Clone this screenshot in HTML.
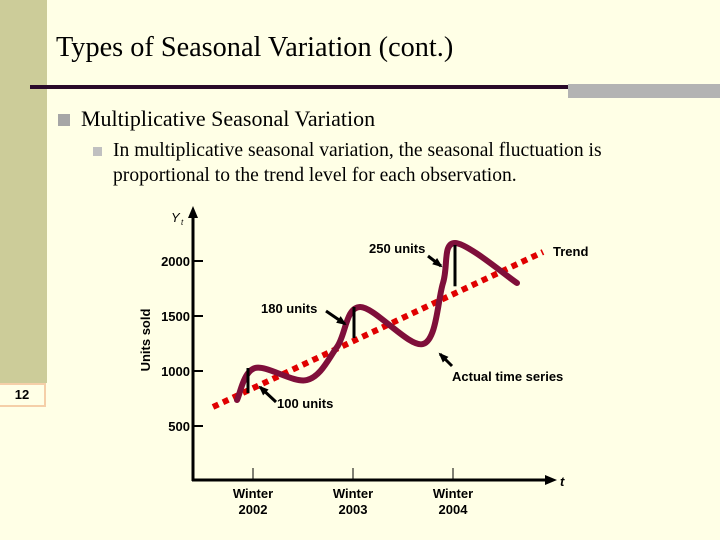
<!DOCTYPE html>
<html><head><meta charset="utf-8"><style>
body{margin:0;width:720px;height:540px;background:#ffffe6;position:relative;overflow:hidden;font-family:"Liberation Serif",serif}
.abs{position:absolute}
</style></head><body>
<div class="abs" style="left:0;top:0;width:47px;height:383px;background:#cccc99"></div>
<div class="abs" style="left:0;top:383px;width:44px;height:20px;border:2px solid #f5cfa8;border-left:none;font:bold 13px 'Liberation Sans',sans-serif;text-align:center;line-height:20px;color:#000">12</div>
<div class="abs" style="left:56px;top:32px;font-size:28px;color:#000;transform:scaleX(1.01);transform-origin:left">Types of Seasonal Variation (cont.)</div>
<div class="abs" style="left:30px;top:85px;width:540px;height:4px;background:#2a0a2a"></div>
<div class="abs" style="left:568px;top:84px;width:152px;height:14px;background:#b3b3b3"></div>
<div class="abs" style="left:58px;top:114px;width:12px;height:12px;background:#a6a6a6"></div>
<div class="abs" style="left:81px;top:106px;font-size:22px">Multiplicative Seasonal Variation</div>
<div class="abs" style="left:93px;top:147px;width:9px;height:9px;background:#c0c0c0"></div>
<div class="abs" style="left:113px;top:138px;font-size:19.6px;line-height:25px;width:560px">In multiplicative seasonal variation, the seasonal fluctuation is<br>proportional to the trend level for each observation.</div>
<svg class="abs" style="left:0;top:0" width="720" height="540">
<g id="g" font-family="Liberation Sans,sans-serif" font-weight="bold" font-size="13"></g>
</svg>
<script>
const yTicks=[500,1000,1500,2000];
const xCats=["Winter|2002","Winter|2003","Winter|2004"];
const actualT=[-0.16,0.02,0.54,0.84,1.07,1.70,1.90,2.02,2.64];
const actualV=[736,1027,918,1218,1582,1245,1800,2164,1800];
const trendT=[-0.4,2.9];
const trendV=[673,2082];
const barT=[-0.07,0.99,2.0];
const barTop=[1027,1582,2146];
const barBot=[800,1300,1770];
const X=t=>253+t*100, Y=v=>426-(v-500)*0.11;
const g=document.getElementById('g'),NS='http://www.w3.org/2000/svg';
function el(tag,a,name,txt){const e=document.createElementNS(NS,tag);for(const k in a)e.setAttribute(k,a[k]);


if(txt!=null)e.textContent=txt;g.appendChild(e);return e;}
el('line',{x1:193,y1:481,x2:193,y2:218,stroke:'#000','stroke-width':3},'y-axis');
el('polygon',{points:'188,218 198,218 193,206'},'y-axis-arrow');
el('line',{x1:192,y1:480,x2:545,y2:480,stroke:'#000','stroke-width':3},'x-axis');
el('polygon',{points:'545,475 545,485 557,480'},'x-axis-arrow');
el('text',{x:171,y:222,'font-weight':'normal','font-style':'italic'},'y-axis-symbol','Y');
el('text',{x:181,y:225,'font-size':8,'font-weight':'normal','font-style':'italic'},'y-axis-subscript','t');
el('text',{x:560,y:486,'font-style':'italic'},'x-axis-symbol','t');
el('text',{x:150,y:340,transform:'rotate(-90 150 340)','text-anchor':'middle'},'y-axis-title','Units sold');
yTicks.forEach(v=>{el('line',{x1:193,x2:203,y1:Y(v),y2:Y(v),stroke:'#000','stroke-width':2},'y-tick');
el('text',{x:190,y:Y(v)+5,'text-anchor':'end'},'y-tick-label',v);});
xCats.forEach((c,i)=>{const x=X(i);const p=c.split('|');
el('line',{x1:x,x2:x,y1:468,y2:480,stroke:'#000','stroke-width':1},'x-tick');
el('text',{x:x,y:498,'text-anchor':'middle'},'x-tick-label',p[0]);
el('text',{x:x,y:514,'text-anchor':'middle'},'x-tick-label',p[1]);});
el('line',{x1:X(trendT[0]),y1:Y(trendV[0]),x2:X(trendT[1]),y2:Y(trendV[1]),stroke:'#e00000','stroke-width':6,'stroke-dasharray':'6 5'},'trend-line');
const P=actualT.map((t,i)=>[X(t),Y(actualV[i])]);
let d='M'+P[0];for(let i=0;i<P.length-1;i++){const p0=P[i-1]||P[i],p1=P[i],p2=P[i+1],p3=P[i+2]||p2;
d+=` C${p1[0]+(p2[0]-p0[0])/6},${p1[1]+(p2[1]-p0[1])/6} ${p2[0]-(p3[0]-p1[0])/6},${p2[1]-(p3[1]-p1[1])/6} ${p2[0]},${p2[1]}`;}
el('path',{d:d,fill:'none',stroke:'#7f0f3a','stroke-width':6,'stroke-linecap':'round'},'actual-series');
barT.forEach((t,i)=>el('line',{x1:X(t)+2,x2:X(t)+2,y1:Y(barTop[i]),y2:Y(barBot[i]),stroke:'#000','stroke-width':3},'seasonal-gap-bar'));
function arrow(x1,y1,x2,y2,n){el('line',{x1,y1,x2,y2,stroke:'#000','stroke-width':3},n);
const a=Math.atan2(y2-y1,x2-x1),L=8,w=4;
const bx=x2-L*Math.cos(a),by=y2-L*Math.sin(a);
el('polygon',{points:`${x2+2*Math.cos(a)},${y2+2*Math.sin(a)} ${bx-w*Math.sin(a)},${by+w*Math.cos(a)} ${bx+w*Math.sin(a)},${by-w*Math.cos(a)}`},n+'-head');}
arrow(276,402,260,387,'arrow-100');arrow(326,311,345,324,'arrow-180');arrow(428,256,441,266,'arrow-250');arrow(452,366,440,354,'arrow-actual');
el('text',{x:277,y:408},'label-100-units','100 units');
el('text',{x:261,y:313},'label-180-units','180 units');
el('text',{x:369,y:253},'label-250-units','250 units');
el('text',{x:553,y:256},'label-trend','Trend');
el('text',{x:452,y:381},'label-actual-series','Actual time series');
</script>
</body></html>
